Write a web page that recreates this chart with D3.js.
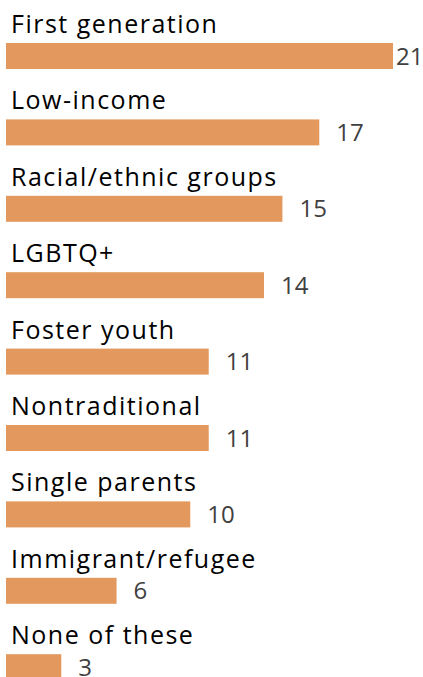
<!DOCTYPE html>
<html>
<head>
<meta charset="utf-8">
<script src="https://cdn.jsdelivr.net/npm/d3@7"></script>
<style>
  body { margin: 0; background: #fff; }
</style>
</head>
<body>
<div id="chart"></div>
<script>
var categories = ['First generation', 'Low-income', 'Racial/ethnic groups', 'LGBTQ+',
  'Foster youth', 'Nontraditional', 'Single parents', 'Immigrant/refugee', 'None of these'];
var values = [21, 17, 15, 14, 11, 11, 10, 6, 3];

var width = 423, height = 677;
var left = 6, rowTop = 43, step = 76.4, barH = 26;

var svg = d3.select('#chart').append('svg')
    .attr('width', width)
    .attr('height', height);

var x = d3.scaleLinear()
    .domain([0, 21])
    .range([left, 393]);

var y = d3.scaleBand()
    .domain(categories)
    .range([rowTop, rowTop + step * categories.length])
    .padding(0);

var row = svg.append('g').selectAll('g')
    .data(categories)
  .enter().append('g')
    .attr('transform', function (d) { return 'translate(0,' + y(d) + ')'; });

row.append('text')
    .attr('x', 11)
    .attr('y', -10)
    .style('font', '25px "Open Sans", sans-serif')
    .style('letter-spacing', '1.5px')
    .style('fill', '#000')
    .text(function (d) { return d; });

row.append('rect')
    .attr('x', x(0))
    .attr('y', 0)
    .attr('width', function (d, i) { return x(values[i]) - x(0); })
    .attr('height', barH)
    .style('fill', '#E3995E');

row.append('text')
    .attr('x', function (d, i) { return Math.min(x(values[i]) + 17, 396); })
    .attr('y', barH / 2)
    .attr('dy', '0.36em')
    .style('font', '24px "Open Sans", sans-serif')
    .style('fill', '#404040')
    .text(function (d, i) { return values[i]; });
</script>
</body>
</html>
